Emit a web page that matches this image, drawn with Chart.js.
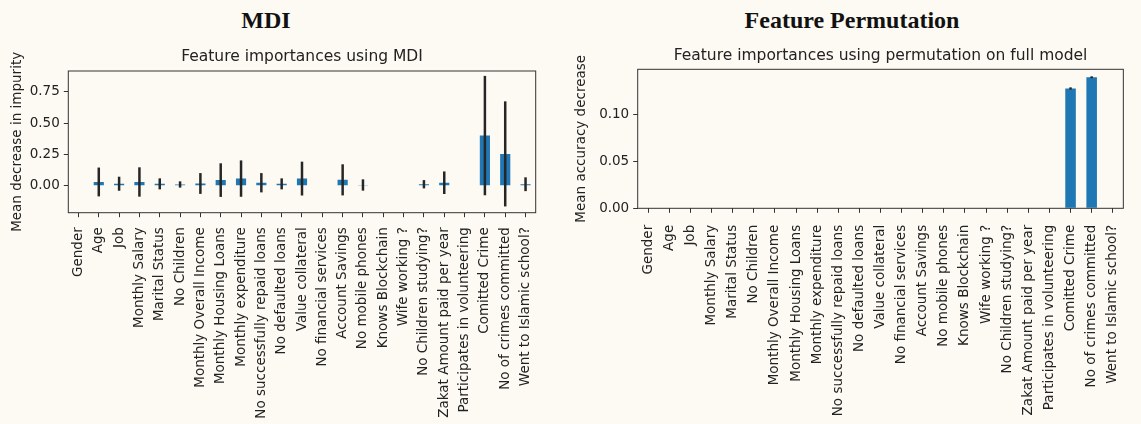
<!DOCTYPE html>
<html>
<head>
<meta charset="utf-8">
<script src="https://cdn.jsdelivr.net/npm/chart.js@4.4.1/dist/chart.umd.min.js"></script>
<style>
  html, body { margin: 0; padding: 0; }
  body { width: 1141px; height: 424px; background: #fcfaf3; position: relative; overflow: hidden; }
  .heading { position: absolute; top: 8px; font: bold 24px "Liberation Serif", "Times New Roman", serif; line-height: 24px; color: #111; white-space: nowrap; transform: translateX(-50%); }
  canvas { position: absolute; top: 0; }
</style>
</head>
<body>
<div class="heading" style="left:266px">MDI</div>
<div class="heading" style="left:852px">Feature Permutation</div>
<canvas id="mdiChart" width="560" height="424" style="left:0"></canvas>
<canvas id="permChart" width="581" height="424" style="left:560px"></canvas>
<script>
const features = [
  'Gender', 'Age', 'Job', 'Monthly Salary', 'Marital Status', 'No Children',
  'Monthly Overall Income', 'Monthly Housing Loans', 'Monthly expenditure',
  'No successfully repaid loans', 'No defaulted loans', 'Value collateral',
  'No financial services', 'Account Savings', 'No mobile phones', 'Knows Blockchain',
  'Wife working ?', 'No Children studying?', 'Zakat Amount paid per year',
  'Participates in volunteering', 'Comitted Crime', 'No of crimes committed',
  'Went to Islamic school?'
];

// mean decrease in impurity and its std over trees
const mdiMean = [0, 0.030, 0.016, 0.030, 0.015, 0.010, 0.018, 0.045, 0.057, 0.024, 0.015, 0.057,
                 0, 0.047, 0.006, 0, 0, 0.012, 0.024, 0, 0.400, 0.254, 0.012];
const mdiStd  = [0, 0.115, 0.056, 0.117, 0.044, 0.025, 0.083, 0.134, 0.145, 0.077, 0.044, 0.135,
                 0, 0.124, 0.045, 0, 0, 0.033, 0.090, 0, 0.476, 0.419, 0.055];

// permutation importances on full model
const permMean = [0, 0, 0, 0, 0, 0, 0, 0, 0, 0, 0, 0, 0, 0, 0, 0, 0, 0, 0, 0, 0.128, 0.140, 0];
const permStd  = [0, 0, 0, 0, 0, 0, 0, 0, 0, 0, 0, 0, 0, 0, 0, 0, 0, 0, 0, 0, 0.0012, 0.0010, 0];

const mdiTicks = [0, 0.25, 0.5, 0.75];
const permTicks = [0, 0.05, 0.10];

const BLUE = '#1f77b4';
const INK = '#222';
const FONT = 'DejaVu Sans';

// vertical error bars, closed axes frame and axes title, matplotlib style
const errorBars = {
  id: 'errorBars',
  afterDatasetsDraw(chart, args, opts) {
    const { ctx, scales: { x, y } } = chart;
    ctx.save();
    ctx.strokeStyle = '#262626';
    ctx.lineWidth = opts.width || 2.5;
    opts.mean.forEach((m, i) => {
      const s = opts.std[i];
      if (!s) return;
      const px = x.getPixelForValue(i);
      ctx.beginPath();
      ctx.moveTo(px, y.getPixelForValue(m - s));
      ctx.lineTo(px, y.getPixelForValue(m + s));
      ctx.stroke();
    });
    ctx.restore();
  },
  afterDraw(chart, args, opts) {
    const { ctx, chartArea: a } = chart;
    ctx.save();
    ctx.strokeStyle = '#333';
    ctx.lineWidth = 1;
    ctx.strokeRect(a.left, a.top, a.right - a.left, a.bottom - a.top);
    ctx.fillStyle = INK;
    ctx.font = '15.5px "' + FONT + '"';
    ctx.textAlign = 'center';
    ctx.textBaseline = 'alphabetic';
    ctx.fillText(opts.title, (a.left + a.right) / 2, opts.titleY);
    ctx.restore();
  }
};

function makeChart(id, o) {
  return new Chart(document.getElementById(id), {
    type: 'bar',
    data: {
      labels: features,
      datasets: [{
        data: o.mean,
        backgroundColor: BLUE,
        borderWidth: 0,
        categoryPercentage: 1,
        barPercentage: 0.5
      }]
    },
    options: {
      responsive: false,
      animation: false,
      layout: { padding: { left: 0, right: o.padRight, top: o.top, bottom: 0 } },
      plugins: {
        legend: { display: false },
        tooltip: { enabled: false },
        title: { display: false },
        errorBars: { mean: o.mean, std: o.std, width: o.errWidth, title: o.title, titleY: o.titleY }
      },
      scales: {
        x: {
          offset: true,
          grid: { offset: false, drawOnChartArea: false, tickLength: 4.5, color: '#333' },
          border: { display: false },
          ticks: {
            autoSkip: false, minRotation: 90, maxRotation: 90, padding: o.xPad,
            color: INK, font: { family: FONT, size: 13.5 }
          },
          afterFit: s => { s.height = 424 - o.bottom; }
        },
        y: {
          min: o.min, max: o.max,
          grid: { drawOnChartArea: false, tickLength: 4.5, color: '#333' },
          border: { display: false },
          ticks: {
            padding: 4, color: INK, font: { family: FONT, size: 13.5 },
            callback: v => v.toFixed(2)
          },
          afterBuildTicks: s => { s.ticks = o.ticks.map(v => ({ value: v })); },
          title: {
            display: true, text: o.yTitle, color: INK,
            font: { family: FONT, size: 13.5 },
            padding: { top: o.yTitlePad, bottom: 0 }
          },
          afterFit: s => { s.width = o.yWidth; }
        }
      }
    },
    plugins: [errorBars]
  });
}

makeChart('mdiChart', {
  title: 'Feature importances using MDI',
  yTitle: 'Mean decrease in impurity',
  mean: mdiMean, std: mdiStd, ticks: mdiTicks,
  min: -0.215, max: 0.915,
  yWidth: 68.3, top: 71, bottom: 212.7, padRight: 24.3,
  titleY: 61, yTitlePad: 9.5, xPad: 10, errWidth: 2.5
});

makeChart('permChart', {
  title: 'Feature importances using permutation on full model',
  yTitle: 'Mean accuracy decrease',
  mean: permMean, std: permStd, ticks: permTicks,
  min: 0, max: 0.1485,
  yWidth: 77.7, top: 69.3, bottom: 208.3, padRight: 1,
  titleY: 60, yTitlePad: 13.5, xPad: 12, errWidth: 2.5
});
</script>
</body>
</html>
